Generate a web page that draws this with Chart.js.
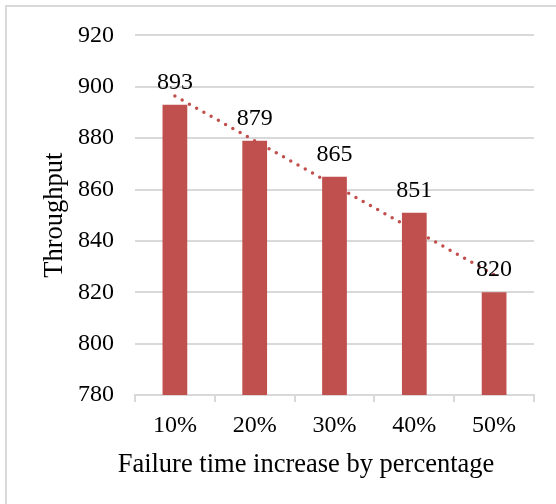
<!DOCTYPE html>
<html>
<head>
<meta charset="utf-8">
<title>Throughput</title>
<script src="https://cdn.jsdelivr.net/npm/chart.js@4.4.1/dist/chart.umd.min.js"></script>
<style>
  html, body { margin: 0; padding: 0; background: #fff; overflow: hidden; }
  #wrap { position: relative; width: 556px; height: 504px; }
  #frame {
    position: absolute; left: 5px; top: 5px; width: 700px; height: 700px;
    border-top: 2px solid #d9d9d9; border-left: 2px solid #d9d9d9;
    pointer-events: none;
  }
</style>
</head>
<body>
<div id="wrap">
  <canvas id="throughput-chart" width="556" height="504"></canvas>
  <div id="frame"></div>
</div>
<script>
var categories = ['10%', '20%', '30%', '40%', '50%'];
var throughput = [893, 879, 865, 851, 820];
var yTicks = [780, 800, 820, 840, 860, 880, 900, 920];
var xTitle = 'Failure time increase by percentage';

var serif = "'Liberation Serif', 'Times New Roman', serif";
var barColor = '#C0504D';
var gridColor = '#d9d9d9';

// linear trend through the bar values (least squares)
function linearTrend(values){
  var n = values.length, sx = 0, sy = 0, sxy = 0, sxx = 0;
  for(var i = 0; i < n; i++){
    sx += i; sy += values[i]; sxy += i * values[i]; sxx += i * i;
  }
  var slope = (n * sxy - sx * sy) / (n * sxx - sx * sx);
  var icpt = (sy - slope * sx) / n;
  return values.map(function(v, i){ return icpt + slope * i; });
}

// value labels above each bar + x title centred under plot and y labels
var extraText = {
  id: 'extraText',
  afterDatasetsDraw: function(chart){
    var meta = chart.getDatasetMeta(1);
    var ctx = chart.ctx;
    var area = chart.chartArea;
    ctx.save();
    ctx.font = '24px ' + serif;
    ctx.fillStyle = '#000';
    ctx.textAlign = 'center';
    ctx.textBaseline = 'alphabetic';
    meta.data.forEach(function(bar, i){
      ctx.fillText(String(throughput[i]), bar.x, bar.y - 16);
    });

    ctx.font = '26.5px ' + serif;
    ctx.fillText(xTitle, (area.left - 57 + area.right) / 2, area.bottom + 77);
    ctx.restore();
  }
};

var ctx = document.getElementById('throughput-chart');
var chart = new Chart(ctx, {
  data: {
    labels: categories,
    datasets: [
      {
        type: 'line',
        label: 'Linear (Throughput)',
        data: linearTrend(throughput),
        borderColor: barColor,
        borderWidth: 3.5,
        borderDash: [0, 8.3],
        borderCapStyle: 'round',
        pointRadius: 0,
        fill: false,
        order: 0
      },
      {
        type: 'bar',
        label: 'Throughput',
        data: throughput,
        backgroundColor: barColor,
        borderWidth: 0,
        categoryPercentage: 1,
        barPercentage: 0.31,
        order: 1
      }
    ]
  },
  options: {
    responsive: false,
    animation: false,
    layout: { padding: { left: 0, top: 35, right: 22, bottom: 0 } },
    plugins: {
      legend: { display: false },
      tooltip: { enabled: false }
    },
    scales: {
      x: {
        afterFit: function(scale){ scale.height = 109; },
        grid: {
          offset: true,
          drawOnChartArea: false,
          drawTicks: true,
          tickLength: 7,
          color: gridColor,
          lineWidth: 2
        },
        border: { display: true, color: gridColor, width: 2 },
        ticks: {
          color: '#000',
          padding: 9,
          font: { family: serif, size: 24 }
        }
      },
      y: {
        min: 780,
        max: 920,
        afterFit: function(scale){ scale.width = 135; },
        afterBuildTicks: function(scale){
          scale.ticks = yTicks.map(function(v){ return { value: v }; });
        },
        grid: { color: gridColor, lineWidth: 2, drawTicks: false },
        border: { display: false },
        ticks: {
          color: '#000',
          padding: 21,
          font: { family: serif, size: 24 }
        },
        title: {
          display: true,
          text: 'Throughput',
          color: '#000',
          padding: { top: 39, bottom: 0 },
          font: { family: serif, size: 26.5 }
        }
      }
    }
  },
  plugins: [extraText]
});
</script>
</body>
</html>
